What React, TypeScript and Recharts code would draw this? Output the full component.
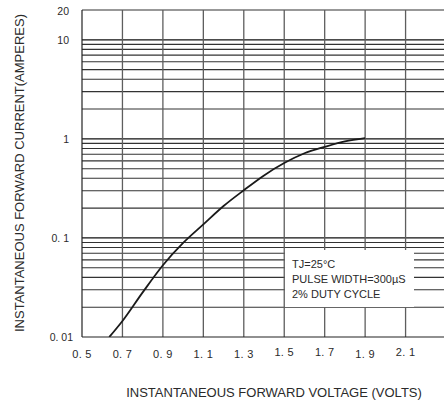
import { LineChart, Line, XAxis, YAxis, ReferenceLine } from "recharts";

// forward voltage (V) vs instantaneous forward current (A)
const voltage = [0.635, 0.7, 0.8, 0.9, 1.0, 1.1, 1.2, 1.3, 1.4, 1.5, 1.6, 1.7, 1.8, 1.9];
const current = [0.01, 0.0145, 0.0282, 0.053, 0.089, 0.137, 0.21, 0.303, 0.428, 0.57, 0.716, 0.83, 0.944, 1.02];

const xTicks = [0.5, 0.7, 0.9, 1.1, 1.3, 1.5, 1.7, 1.9, 2.1];
const xLabels = ["0. 5", "0. 7", "0. 9", "1. 1", "1. 3", "1. 5", "1. 7", "1. 9", "2. 1"];
const xGrid = [0.7, 0.9, 1.1, 1.3, 1.5, 1.7, 1.9, 2.1];

const yTicks = [0.01, 0.1, 1, 10, 20];
const yLabels = ["0. 01", "0. 1", "1", "10", "20"];
const yGrid = [
  0.02, 0.03, 0.04, 0.05, 0.06, 0.07, 0.08, 0.09,
  0.1, 0.2, 0.3, 0.4, 0.5, 0.6, 0.7, 0.8, 0.9,
  1, 2, 3, 4, 5, 6, 7, 8, 9,
  10, 20,
];
const decades = [0.1, 1, 10];

const noteLines = ["TJ=25°C", "PULSE WIDTH=300µS", "2% DUTY CYCLE"];

const data = voltage.map((v, i) => ({ v, a: current[i] }));

const font = '"Liberation Sans", Arial, sans-serif';
const ink = "#2a2a2a";

const XTick = ({ x, y, payload, index }: any) => {
  const raised = [1.5, 1.7, 2.1].includes(payload.value);
  return (
    <text x={x} y={y + (raised ? 19 : 21)} textAnchor="middle" fontSize={11} fontFamily={font} fill={ink} letterSpacing={0.3}>
      {xLabels[index]}
    </text>
  );
};

const YTick = ({ x, y, index }: any) => {
  const dx = index === 0 ? -9 : -13;
  const dy = index === 4 ? 5 : 4;
  return (
    <text x={x + dx} y={y + dy} textAnchor="end" fontSize={10.5} fontFamily={font} fill={ink}>
      {yLabels[index]}
    </text>
  );
};

export default function App() {
  return (
    <div style={{ position: "fixed", left: 0, top: 0, width: 444, height: 405, background: "#fff", overflow: "hidden" }}>
      <LineChart width={444} height={405} data={data} margin={{ top: 10, right: 0, bottom: 0, left: 0 }}>
        <XAxis
          dataKey="v"
          type="number"
          domain={[0.5, 2.29]}
          ticks={xTicks}
          tick={<XTick />}
          tickLine={false}
          tickSize={0}
          tickMargin={0}
          height={68}
          axisLine={{ stroke: "#222", strokeWidth: 1.2 }}
          allowDataOverflow
        />
        <YAxis
          dataKey="a"
          scale="log"
          type="number"
          domain={[0.01, 20]}
          ticks={yTicks}
          tick={<YTick />}
          tickLine={false}
          tickSize={0}
          tickMargin={0}
          width={82}
          axisLine={{ stroke: "#222", strokeWidth: 1.2 }}
          allowDataOverflow
        />
        {yGrid.map((g) => (
          <ReferenceLine
            key={"h" + g}
            y={g}
            stroke={decades.includes(g) ? "#111" : "#333"}
            strokeWidth={decades.includes(g) ? 1.3 : 1.1}
          />
        ))}
        {xGrid.map((g) => (
          <ReferenceLine key={"v" + g} x={g} stroke="#5e5e5e" strokeWidth={1.3} />
        ))}
        <Line
          dataKey="a"
          type="monotone"
          stroke="#1a1a1a"
          strokeWidth={1.8}
          dot={false}
          isAnimationActive={false}
        />
      </LineChart>

      {/* note box, blanks out the grid behind it */}
      <div
        style={{
          position: "absolute",
          left: 285,
          top: 250,
          width: 129,
          height: 57,
          background: "#fff",
          boxSizing: "border-box",
          paddingTop: 7,
          paddingLeft: 7,
          fontFamily: font,
          fontSize: 11,
          lineHeight: "15px",
          color: ink,
          whiteSpace: "nowrap",
        }}
      >
        {noteLines.map((t) => (
          <div key={t}>{t}</div>
        ))}
      </div>

      <div
        style={{
          position: "absolute",
          left: 104,
          width: 340,
          top: 385,
          textAlign: "center",
          fontFamily: font,
          fontSize: 13,
          lineHeight: "15px",
          color: ink,
          whiteSpace: "nowrap",
        }}
      >
        INSTANTANEOUS FORWARD VOLTAGE (VOLTS)
      </div>
      <div
        style={{
          position: "absolute",
          left: 19,
          top: 173,
          transform: "translate(-50%, -50%) rotate(-90deg)",
          fontFamily: font,
          fontSize: 13,
          color: ink,
          whiteSpace: "nowrap",
        }}
      >
        INSTANTANEOUS FORWARD CURRENT(AMPERES)
      </div>
    </div>
  );
}
